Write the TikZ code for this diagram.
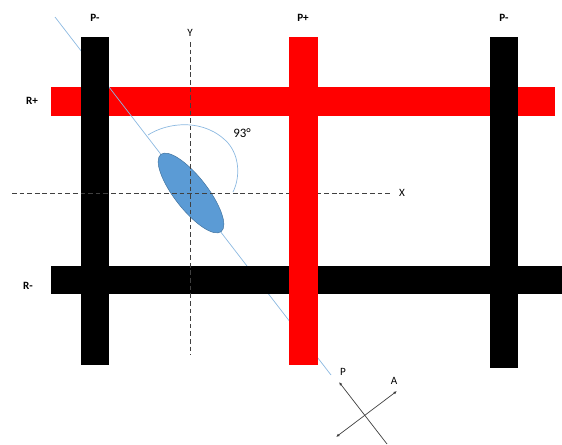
\documentclass[tikz,border=0pt]{standalone}
\usepackage{fontspec}
\setmainfont{Carlito}
\usetikzlibrary{arrows.meta}
\definecolor{lineblue}{RGB}{140,185,225}
\definecolor{ellblue}{RGB}{91,155,213}
\definecolor{ellrim}{RGB}{65,113,156}
\definecolor{axisgray}{RGB}{64,64,64}

\tikzset{
  barlabel/.style={font=\bfseries\fontsize{9.5}{11}\selectfont},
  axislabel/.style={font=\fontsize{9.5}{11}\selectfont},
  axisline/.style={axisgray, line width=0.6pt, dash pattern=on 4pt off 2.5pt},
  pola/.style={axisgray, line width=0.6pt},
}

\begin{document}
\begin{tikzpicture}[x=0.03cm, y=-0.03cm]
\useasboundingbox (0,0) rectangle (562,444);

    % rows and columns
    \fill[red] (51,87) rectangle (555,116);
    \draw[lineblue, line width=0.6pt] (55,17) coordinate (l1) -- (331,375) coordinate (l2);
    \fill[black] (81,37) rectangle (109,365);
    \fill[black] (490,37) rectangle (518,368);
    \fill[black] (51,266) rectangle (562,294);

    \coordinate (c) at (191,193);
    \draw[fill=ellblue, draw=ellrim, line width=0.4pt, rotate around={-52:(c)}] (c) ellipse [x radius=49, y radius=16.5];

    % axes
    \coordinate (xl) at (12,193);
    \coordinate (xr) at (390,193);
    \coordinate (yt) at (190,42);
    \coordinate (yb) at (190,355);
    \draw[axisline] (xl) -- (xr);
    \draw[axisline] (yt) -- (yb);

    \fill[red] (289,37) rectangle (318,365);

    % angle
    \coordinate (s1) at (148,135);
    \coordinate (s2) at (228,143);
    \coordinate (s3) at (233,192);
    \draw[lineblue, line width=0.6pt] (s1) .. controls (168,122) and (205,118) .. (s2)
                                            .. controls (240,157) and (240,178) .. (s3);

\draw (95,18)  node[barlabel] (p1) {P-};
\draw (303,18) node[barlabel] (p2) {P+};
\draw (504,18) node[barlabel] (p3) {P-};
\draw (32,101) node[barlabel] (r1) {R+};
\draw (28,286) node[barlabel] (r2) {R-};
\draw (190,33) node[axislabel] (ny) {Y};
\draw (402,193) node[axislabel] (nx) {X};
\draw (242,133) node[axislabel, font=\fontsize{11}{13}\selectfont] (ang) {93°};

    % P and A
    \coordinate (pb) at (387,444);
    \coordinate (pt) at (339,382);
    \coordinate (a1) at (336,437);
    \coordinate (a2) at (397,391);
    \draw[pola, -{Latex[length=3pt,width=2.5pt]}] (pb) -- (pt);
    \draw[pola, {Latex[length=3pt,width=2.5pt]}-{Latex[length=3pt,width=2.5pt]}] (a1) -- (a2);
\draw (343,372) node[axislabel] (np) {P};
\draw (394,381) node[axislabel] (na) {A};

\end{tikzpicture}
\end{document}
